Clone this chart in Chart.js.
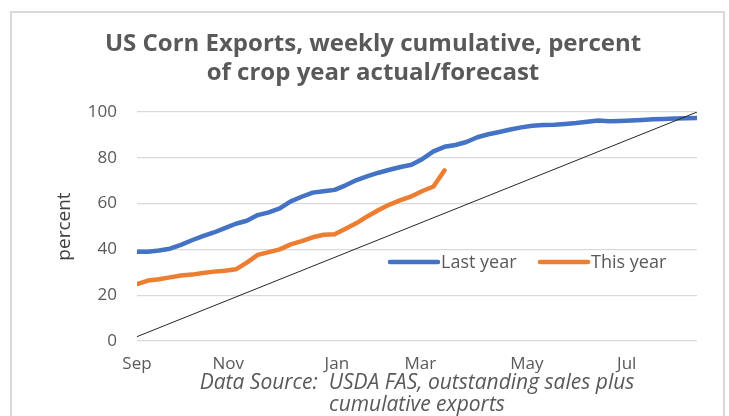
<!DOCTYPE html>
<html>
<head>
<meta charset="utf-8">
<script src="https://cdn.jsdelivr.net/npm/chart.js@4.4.1/dist/chart.umd.min.js"></script>
<style>
  html, body { margin: 0; padding: 0; background: #fff; }
  #wrap { position: relative; width: 729px; height: 416px; overflow: hidden; }
  #frame { position: absolute; left: 10px; top: 11px; width: 715px; height: 420px; border: 2px solid #d9d9d9; box-sizing: border-box; }
  canvas { position: absolute; left: 0; top: 0; }
</style>
</head>
<body>
<div id="wrap">
  <div id="frame"></div>
  <canvas id="chart" width="729" height="416"></canvas>
</div>
<script>
// weekly cumulative exports, percent of crop year total (week 0 = first week of Sep)
const lastYear = [
  39.0, 39.0, 39.5, 40.3, 42.0, 44.0, 45.8, 47.4, 49.3, 51.2,
  52.5, 55.0, 56.2, 57.9, 61.0, 63.0, 64.8, 65.4, 66.0, 68.0,
  70.3, 72.0, 73.5, 74.8, 76.0, 77.0, 79.5, 82.8, 84.8, 85.6,
  86.9, 89.0, 90.3, 91.3, 92.4, 93.3, 94.0, 94.3, 94.4, 94.8,
  95.2, 95.8, 96.3, 96.0, 96.1, 96.3, 96.5, 96.8, 97.0, 97.2,
  97.3, 97.4
];
const thisYear = [
  24.9, 26.4, 27.0, 27.8, 28.6, 29.0, 29.7, 30.3, 30.7, 31.3,
  34.2, 37.6, 38.8, 40.0, 42.2, 43.6, 45.3, 46.4, 46.6, 49.0,
  51.5, 54.5, 57.2, 59.6, 61.5, 63.2, 65.5, 67.5, 74.5
];
// even-pace reference line: start and end of the crop year
const paceWeeks = [0, 51];
const paceValues = [1.9, 100];

// month labels and the week they sit on
const monthWeeks = [0, 8.3, 18.2, 25.8, 35.5, 44.6];
const monthLabels = ['Sep', 'Nov', 'Jan', 'Mar', 'May', 'Jul'];
const yTicks = [0, 20, 40, 60, 80, 100];

const toPoints = (arr) => arr.map((v, i) => ({ x: i, y: v }));
const textColor = '#595959';
const fontFamily = '"Open Sans", "Liberation Sans", sans-serif';

/* legend drawn inside the plot, like the Excel original */
const insideLegend = {
  id: 'insideLegend',
  afterDatasetsDraw(chart) {
    const { ctx, chartArea } = chart;
    const y = chartArea.top + 150;
    const starts = [chartArea.left + 253, chartArea.left + 403];
    ctx.save();
    ctx.font = '18px ' + fontFamily;
    ctx.textBaseline = 'middle';
    ctx.fillStyle = textColor;
    chart.data.datasets.filter(d => d.inLegend).forEach((d, i) => {
      const x = starts[i];
      ctx.strokeStyle = d.borderColor;
      ctx.lineWidth = 4.5;
      ctx.lineCap = 'round';
      ctx.beginPath();
      ctx.moveTo(x, y);
      ctx.lineTo(x + 48, y);
      ctx.stroke();
      ctx.fillText(d.label, x + 51, y + 1);
    });
    ctx.restore();
  }
};

new Chart(document.getElementById('chart'), {
  type: 'line',
  data: {
    datasets: [
      {
        label: 'Even pace',
        data: paceWeeks.map((w, i) => ({ x: w, y: paceValues[i] })),
        borderColor: '#262626',
        borderWidth: 1,
        pointRadius: 0
      },
      {
        label: 'Last year',
        inLegend: true,
        data: toPoints(lastYear),
        borderColor: '#4472C4',
        borderWidth: 4.5,
        borderCapStyle: 'round',
        borderJoinStyle: 'round',
        pointRadius: 0
      },
      {
        label: 'This year',
        inLegend: true,
        data: toPoints(thisYear),
        borderColor: '#ED7D31',
        borderWidth: 4.5,
        borderCapStyle: 'round',
        borderJoinStyle: 'round',
        pointRadius: 0
      }
    ]
  },
  options: {
    responsive: false,
    animation: false,
    layout: { padding: { left: 49, right: 32, top: 0, bottom: 0 } },
    plugins: {
      legend: { display: false },
      tooltip: { enabled: false },
      title: {
        display: true,
        text: ['US Corn Exports, weekly cumulative, percent', 'of crop year actual/forecast'],
        color: textColor,
        font: { family: fontFamily, size: 24, weight: 'bold', lineHeight: 1.23 },
        padding: { top: 29, bottom: 24 }
      }
    },
    scales: {
      x: {
        type: 'linear',
        min: 0,
        max: 51,
        grid: { display: false, drawTicks: false },
        border: { display: false },
        afterBuildTicks: (axis) => { axis.ticks = monthWeeks.map(v => ({ value: v })); },
        afterFit: (axis) => { axis.height = 75; },
        ticks: {
          color: textColor,
          font: { family: fontFamily, size: 17 },
          padding: 13,
          maxRotation: 0,
          autoSkip: false,
          callback: (v, i) => monthLabels[i]
        },
        title: {
          display: true,
          text: ['Data Source:  USDA FAS, outstanding sales plus', 'cumulative exports'],
          color: textColor,
          font: { family: fontFamily, size: 21, style: 'italic', lineHeight: 1.05 },
          padding: { top: 0, bottom: 0 }
        }
      },
      y: {
        min: 0,
        max: 100,
        grid: { color: '#d9d9d9', lineWidth: 1.3, drawTicks: false },
        border: { display: false },
        afterBuildTicks: (axis) => { axis.ticks = yTicks.map(v => ({ value: v })); },
        afterFit: (axis) => { axis.width = 88; },
        ticks: {
          color: textColor,
          font: { family: fontFamily, size: 17 },
          padding: 20
        },
        title: {
          display: true,
          text: 'percent',
          color: '#404040',
          font: { family: fontFamily, size: 19 },
          padding: { top: 4, bottom: 4 }
        }
      }
    }
  },
  plugins: [insideLegend]
});
</script>
</body>
</html>
